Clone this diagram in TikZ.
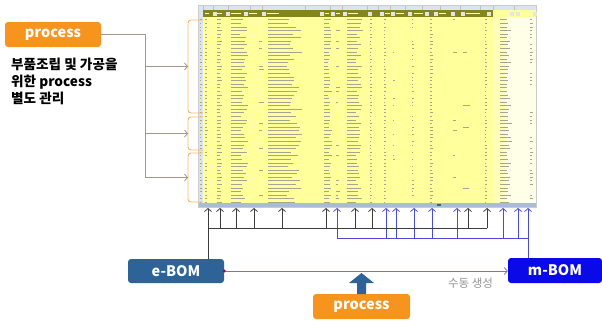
\documentclass[tikz,border=0pt]{standalone}
\usepackage{fontspec}
\newfontfamily\kr{Noto Sans CJK KR}
\usetikzlibrary{arrows.meta}
\definecolor{orangebox}{HTML}{F7941D}
\definecolor{bracketor}{HTML}{F5B766}
\definecolor{tanline}{HTML}{A89684}
\definecolor{ebomblue}{HTML}{2E6398}
\definecolor{mbomblue}{HTML}{0A0AE8}
\definecolor{darkarr}{HTML}{3C3C3C}
\definecolor{bluearr}{HTML}{4B4BDB}
\definecolor{purpleline}{HTML}{8470A4}
\definecolor{sheetyellow}{HTML}{FFFF9C}
\definecolor{sheetpale}{HTML}{FFFFE8}
\definecolor{olivehead}{HTML}{85851E}
\definecolor{rowhead}{HTML}{DCE4EE}
\definecolor{scrollbar}{HTML}{A9BCD6}
\definecolor{scribble}{HTML}{A6A690}
\begin{document}
\begin{tikzpicture}[x=1pt,y=-1pt,font=\kr,
  procbox/.style={rounded corners=3pt,fill=orangebox,text=white,font=\kr\bfseries\fontsize{14.5}{14.5}\selectfont,minimum width=96pt,minimum height=25pt,inner sep=0pt},
  bombox/.style={rounded corners=3pt,text=white,font=\kr\bfseries\fontsize{14.5}{14.5}\selectfont,minimum height=24pt,inner sep=0pt},
  tan/.style={draw=tanline,line width=0.8pt},
  tanarrow/.style={tan,-{Straight Barb[length=3pt,width=7pt]}},
  bracket/.style={draw=bracketor,line width=0.9pt,rounded corners=3pt},
  blkarrow/.style={draw=darkarr,line width=0.8pt,-{Straight Barb[length=3pt,width=7pt]}},
  bluarrow/.style={draw=bluearr,line width=0.8pt,-{Straight Barb[length=3pt,width=7pt]}},
  blkline/.style={draw=darkarr,line width=0.8pt},
  bluline/.style={draw=bluearr,line width=0.8pt},
  scrib/.style={draw=scribble,line width=0.5pt}]
\useasboundingbox (0,0) rectangle (602,322);

% ---------------- spreadsheet screenshot ----------------
\fill[rowhead] (198,5) rectangle (536,10);
\foreach \x in {203,213,228,250,262,305,330,342,367,378,390,405,422,440,460,480,493,514,536}
  \draw[gray!50,line width=0.3pt] (\x,5) -- (\x,10);
\fill[rowhead] (198,10) rectangle (203,203);
\fill[olivehead] (203,10) rectangle (493,17);
\fill[sheetyellow] (493,10) rectangle (536,17);
\fill[sheetyellow] (203,17) rectangle (493,203);
\fill[sheetpale] (493,17) rectangle (536,203);
\fill[sheetyellow!70!white] (493,17) rectangle (505,203);
\fill[scrollbar] (198,203) rectangle (536,207);
\fill[gray!70!black] (437,204) rectangle (441,206);
\draw[gray!40,line width=0.3pt] (198,5) rectangle (536,207);
% header filter buttons and labels
\foreach \x in {215,228,246,264,322,333,345,370,382,393,410,427,436,453,463,489,512,518,535}
  \fill[white!80!gray] (\x-1.6,12) rectangle (\x+1.6,15.6);
\foreach \x/\l in {205/4,217/5,231/10,249/8,267/12,325/4,336/4,348/10,385/5,396/8,414/9,439/7,466/14,495/7,520/9}
  \draw[white!80!yellow,line width=0.8pt] (\x,13.5) -- (\x+\l,13.5);
% cell contents (illegible scribbles)
\pgfmathsetseed{11}
\foreach \i in {0,...,51}{
  \pgfmathsetmacro\yy{19.6+\i*3.58}
  \foreach \x/\l/\p in {199.5/2.5/1,205/2.5/0.9,217/5/1,231/17/1,259/5/0.25,268/34/1,324/8/1,336/4/0.3,347/16/1,370/2/1,384/2/1,393/2/0.25,412/2/0.6,430/3/1,453/4/0.15,463/8/0.1,485/2/1,500/12/1,530/3/0.6}{
    \pgfmathsetmacro\r{rnd}
    \pgfmathsetmacro\s{0.55+0.45*rnd}
    \ifdim\r pt<\p pt
      \draw[scrib] (\x,\yy) -- ++(\l*\s,0);
    \fi
  }
}

% ---------------- left annotation ----------------
\node[procbox] (p1) at (53,34.5) {process};
\node[anchor=north west,align=left,inner sep=0pt,font=\kr\bfseries\fontsize{13.6}{17}\selectfont] (txt) at (11,57.5)
  {부품조립 및 가공을\\위한 process\\별도 관리};

% orange brackets on the sheet
\draw[bracket] (203,20) -- (188,20) -- (188,113) -- (203,113);
\draw[bracket] (203,117) -- (188,117) -- (188,150) -- (203,150);
\draw[bracket] (203,153) -- (188,153) -- (188,202) -- (203,202);
\coordinate (b1) at (188,66.5);
\coordinate (b2) at (188,133.5);
\coordinate (b3) at (188,177.5);
\coordinate (j0) at (145,34.5);
\coordinate (j1) at (145,66.5);
\coordinate (j2) at (145,133.5);
\coordinate (j3) at (145,177.5);
\draw[tan] (p1.east) -- (j0) -- (j3);
\draw[tanarrow] (j1) -- (b1);
\draw[tanarrow] (j2) -- (b2);
\draw[tanarrow] (j3) -- (b3);

% ---------------- BOM boxes ----------------
\node[bombox,fill=ebomblue,minimum width=96pt] (e) at (176,271) {e-BOM};
\node[bombox,fill=mbomblue,minimum width=94pt,minimum height=25pt] (m) at (555,270.5) {m-BOM};
\draw[purpleline,line width=0.8pt,-{Straight Barb[length=3pt,width=7pt]}] (e.east) -- (e.east -| m.west);
\fill[purple!80!blue] (e.east) circle (1.6pt);
\node[text=gray!85,font=\kr\fontsize{11.5}{11.5}\selectfont,inner sep=0pt] (manual) at (470.5,283.5) {수동 생성};

\node[procbox,minimum width=97pt] (p2) at (361.5,306.5) {process};
\fill[ebomblue] (357,294) -- (357,283) -- (349,283) -- (361.5,273) -- (374,283) -- (366,283) -- (366,294) -- cycle;

% ---------------- arrows into the sheet ----------------
\coordinate (eup) at (208,228);
\coordinate (mup) at (528,238);
\foreach \x in {208,220,236,254,282,326,355,372,468,487}{
  \coordinate (kt\x) at (\x,208);
  \draw[blkarrow] (\x,228) -- (kt\x);
}
\foreach \x in {337,386,396,414,432,457,503,518,528}{
  \coordinate (bt\x) at (\x,208);
  \draw[bluarrow] (\x,238) -- (bt\x);
}
\draw[blkline] (eup) -- (487,228);
\draw[blkline] (e.north -| eup) -- (eup);
\draw[bluline] (337,238) -- (mup);
\draw[bluline] (m.north -| mup) -- (mup);
\end{tikzpicture}
\end{document}
